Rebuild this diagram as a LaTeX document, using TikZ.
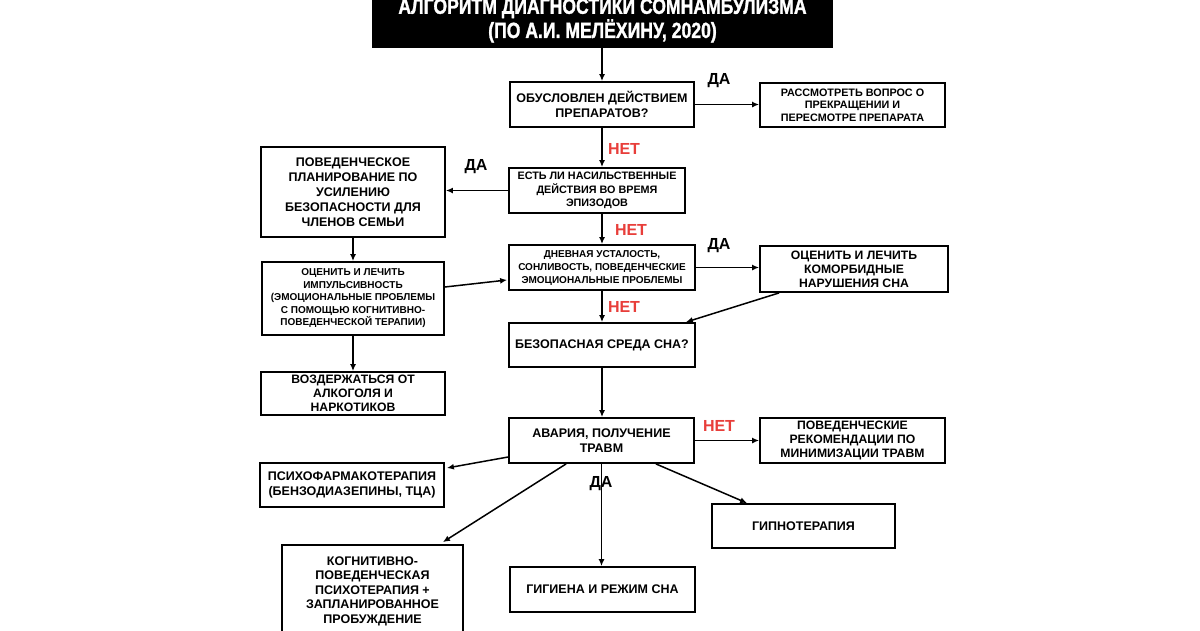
\documentclass[tikz,border=0pt]{standalone}
\usepackage{fontspec}
\setmainfont{Liberation Sans}
\newfontfamily\titlefont[FakeStretch=0.8, BoldFeatures={FakeBold=1.3}]{Liberation Sans}
\usetikzlibrary{arrows.meta,calc}
\definecolor{nored}{RGB}{232,62,58}
\tikzset{
 box/.style={draw=black, line width=1.8pt, fill=white, align=center, inner sep=0pt, font=\fontsize{12.5}{15}\selectfont\bfseries},
 tight/.style={font=\fontsize{12.2}{13.8}\selectfont\bfseries},
 arr/.style={line width=1.5pt, -{Latex[length=7pt,width=6pt]}},
 lblda/.style={font=\fontsize{16}{16}\selectfont\bfseries},
 lblnet/.style={font=\fontsize{16}{16}\selectfont\bfseries, text=nored},
}
\begin{document}
\begin{tikzpicture}[x=1pt,y=-1pt]
\useasboundingbox (0,0) rectangle (1200,630);
\fill[white] (0,0) rectangle (1200,630);
\clip (0,0) rectangle (1200,630);

% title
\node[fill=black, minimum width=461pt, minimum height=55pt, inner sep=0pt, align=center, text=white,
  font=\titlefont\fontsize{22}{23}\selectfont\bfseries] (title) at (602.5,20.5)
  {АЛГОРИТМ ДИАГНОСТИКИ СОМНАМБУЛИЗМА\\(ПО А.И. МЕЛЁХИНУ, 2020)};

% boxes
\node[box, minimum width=184pt, minimum height=45pt] (b1) at (602,104.5) {ОБУСЛОВЛЕН ДЕЙСТВИЕМ\\ПРЕПАРАТОВ?};
\node[box, minimum width=185pt, minimum height=44pt, font=\fontsize{10.8}{12.3}\selectfont\bfseries] (b2) at (852.5,105) {РАССМОТРЕТЬ ВОПРОС О\\ПРЕКРАЩЕНИИ И\\ПЕРЕСМОТРЕ ПРЕПАРАТА};
\node[box, minimum width=176pt, minimum height=45pt, font=\fontsize{10.8}{13.5}\selectfont\bfseries] (b3) at (597,190.5) {ЕСТЬ ЛИ НАСИЛЬСТВЕННЫЕ\\ДЕЙСТВИЯ ВО ВРЕМЯ\\ЭПИЗОДОВ};
\node[box, minimum width=184pt, minimum height=90pt] (b4) at (353,192) {ПОВЕДЕНЧЕСКОЕ\\ПЛАНИРОВАНИЕ ПО\\УСИЛЕНИЮ\\БЕЗОПАСНОСТИ ДЛЯ\\ЧЛЕНОВ СЕМЬИ};
\node[box, minimum width=182pt, minimum height=73pt, font=\fontsize{10}{12.5}\selectfont\bfseries] (b5) at (353,298.5) {ОЦЕНИТЬ И ЛЕЧИТЬ\\ИМПУЛЬСИВНОСТЬ\\(ЭМОЦИОНАЛЬНЫЕ ПРОБЛЕМЫ\\С ПОМОЩЬЮ КОГНИТИВНО-\\ПОВЕДЕНЧЕСКОЙ ТЕРАПИИ)};
\node[box, minimum width=186pt, minimum height=45pt, font=\fontsize{10}{13}\selectfont\bfseries] (b6) at (602,267.5) {ДНЕВНАЯ УСТАЛОСТЬ,\\СОНЛИВОСТЬ, ПОВЕДЕНЧЕСКИЕ\\ЭМОЦИОНАЛЬНЫЕ ПРОБЛЕМЫ};
\node[box, tight, minimum width=188pt, minimum height=46pt] (b7) at (854,269) {ОЦЕНИТЬ И ЛЕЧИТЬ\\КОМОРБИДНЫЕ\\НАРУШЕНИЯ СНА};
\node[box, minimum width=186pt, minimum height=44pt] (b8) at (602,345) {БЕЗОПАСНАЯ СРЕДА СНА?};
\node[box, tight, minimum width=184pt, minimum height=43pt] (b5b) at (353,393.5) {ВОЗДЕРЖАТЬСЯ ОТ\\АЛКОГОЛЯ И\\НАРКОТИКОВ};
\node[box, minimum width=185pt, minimum height=45pt] (b9) at (601.5,440.5) {АВАРИЯ, ПОЛУЧЕНИЕ\\ТРАВМ};
\node[box, tight, minimum width=185pt, minimum height=45pt] (b10) at (852.5,440.5) {ПОВЕДЕНЧЕСКИЕ\\РЕКОМЕНДАЦИИ ПО\\МИНИМИЗАЦИИ ТРАВМ};
\node[box, minimum width=184pt, minimum height=44pt] (b11) at (352,485) {ПСИХОФАРМАКОТЕРАПИЯ\\(БЕНЗОДИАЗЕПИНЫ, ТЦА)};
\node[box, minimum width=183pt, minimum height=44pt] (b12) at (803.5,526) {ГИПНОТЕРАПИЯ};
\node[box, minimum width=185pt, minimum height=45pt] (b13) at (602.5,589.5) {ГИГИЕНА И РЕЖИМ СНА};
\node[box, minimum width=181pt, minimum height=92pt, font=\fontsize{12.5}{14.5}\selectfont\bfseries] (b14) at (372.5,591) {КОГНИТИВНО-\\ПОВЕДЕНЧЕСКАЯ\\ПСИХОТЕРАПИЯ +\\ЗАПЛАНИРОВАННОЕ\\ПРОБУЖДЕНИЕ};

% connectors
\draw[arr] (b1.north |- title.south) -- (b1.north);
\draw[arr] (b1.east) -- (b1.east -| b2.west);
\draw[arr] (b1.south) -- (b1.south |- b3.north);
\draw[arr] (b3.west) -- (b3.west -| b4.east);
\draw[arr] (b1.south |- b3.south) -- (b1.south |- b6.north);
\draw[arr] (b4.south) -- (b4.south |- b5.north);
\draw[arr] ($(b5.east)+(0,-11.5)$) -- ($(b6.west)+(-1,12.5)$);
\draw[arr] (b6.east) -- (b6.east -| b7.west);
\draw[arr] ($(b7.south west)+(20,0)$) -- ($(b8.north east)+(-10,0)$);
\draw[arr] (b6.south) -- (b6.south |- b8.north);
\draw[arr] (b5.south) -- (b5.south |- b5b.north);
\draw[arr] (b8.south) -- (b8.south |- b9.north);
\draw[arr] (b9.east) -- (b9.east -| b10.west);
\draw[arr] ($(b9.west)+(0,16.5)$) -- ($(b11.east)+(2,-17)$);
\draw[arr] ($(b9.south east)+(-39,0)$) -- ($(b12.north west)+(36,0)$);
\draw[arr] (b9.south) -- (b9.south |- b13.north);
\draw[arr] ($(b9.south west)+(58,0)$) -- ($(b14.north east)+(-21,-2)$);

% labels
\node[lblda] (l1) at (719,81) {ДА};
\node[lblnet] (l2) at (624,149) {НЕТ};
\node[lblda] (l3) at (476,167) {ДА};
\node[lblnet] (l4) at (631,230) {НЕТ};
\node[lblda] (l5) at (719,246) {ДА};
\node[lblnet] (l6) at (624,307) {НЕТ};
\node[lblnet] (l7) at (719,426) {НЕТ};
\node[lblda] (l8) at (601,484) {ДА};
\end{tikzpicture}
\end{document}
